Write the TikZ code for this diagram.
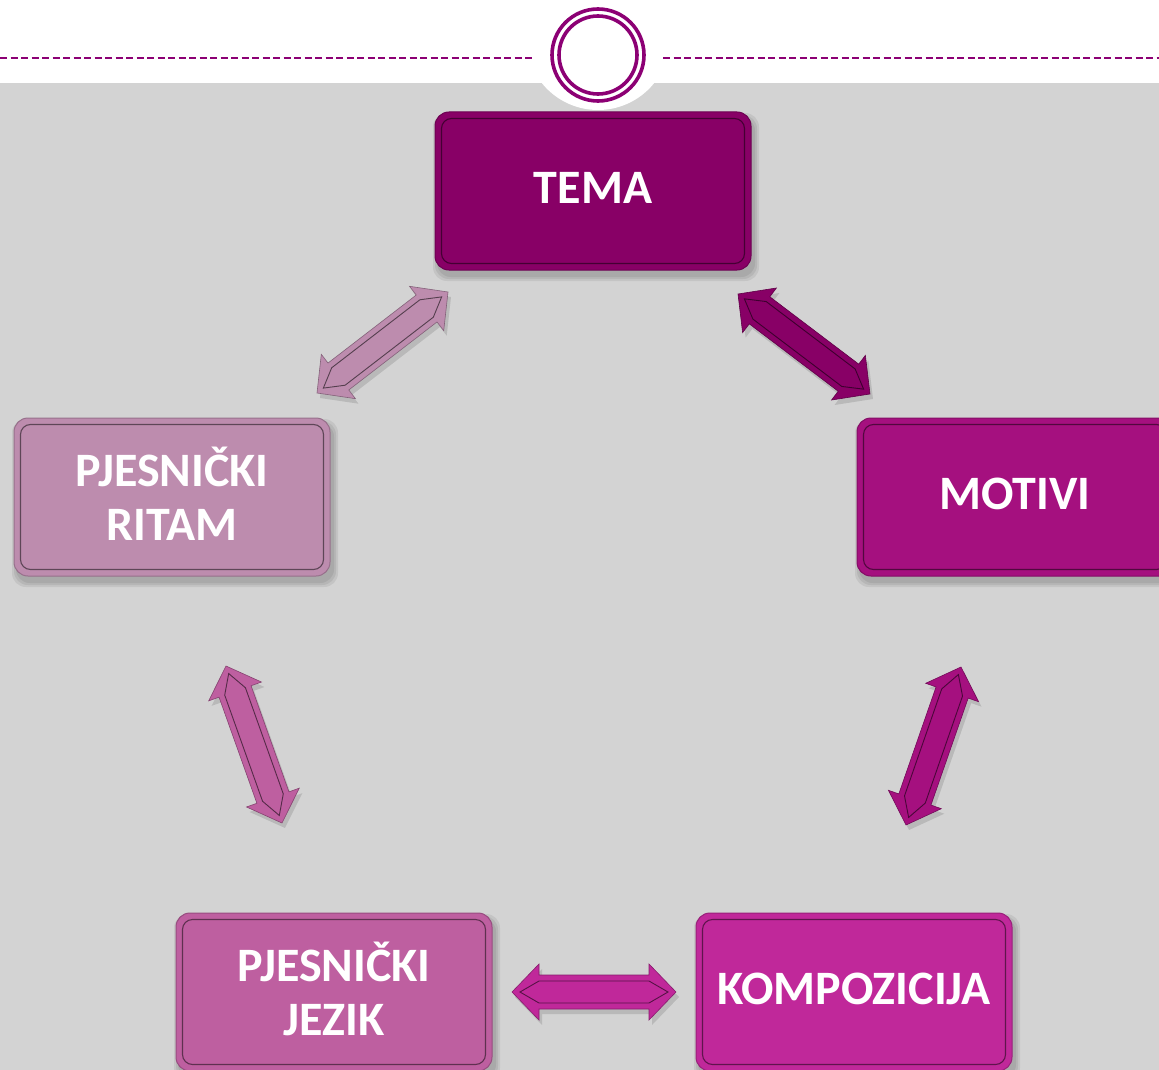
\documentclass[tikz,border=0pt]{standalone}
\usepackage{fontspec}
\setmainfont{Carlito}
\usetikzlibrary{calc}

\definecolor{temacol}{HTML}{880066}
\definecolor{motivicol}{HTML}{A5107F}
\definecolor{ritamcol}{HTML}{BD8CAE}
\definecolor{jezikcol}{HTML}{BE5FA0}
\definecolor{kompcol}{HTML}{C0289A}
\definecolor{bggrey}{HTML}{D3D3D3}
\definecolor{ringcol}{HTML}{8C0074}

\tikzset{
  topic/.style={rectangle,rounded corners=14pt,minimum width=316pt,minimum height=158pt,
    inner sep=0pt,draw=#1!80!black,line width=1pt,fill=#1,text=white,align=center,
    font=\fontsize{48}{54}\selectfont\bfseries},
  topicline/.style={draw=#1!50!black,line width=1.1pt,rounded corners=10pt},
  dashline/.style={ringcol,line width=1.8pt,dash pattern=on 7pt off 3.5pt},
  ringline/.style={ringcol,line width=3.6pt}
}

% box with soft shadow and inner outline
\newcommand{\topicbox}[4]{%
  \foreach \g in {1,3,5}
    \fill[black,opacity=0.07,rounded corners=14pt]
      ($(#2)+(-155-\g,-73-\g)$) rectangle ($(#2)+(161+\g,85+\g)$);
  \node[topic=#3] (#1) at (#2) {};
  \draw[topicline=#3] ($(#1.south west)+(7,-7)$) rectangle ($(#1.north east)+(-7,7)$);
  \node[text=white,align=center,font=\fontsize{48}{54}\selectfont\bfseries] (#1text)
    at ($(#1)+(0,-3)$) {#4};
}

% double-headed block arrow between two named coordinates
\newdimen\arrdx
\newdimen\arrdy
\newcommand{\dblarrow}[3]{%
  \pgfextractx{\arrdx}{\pgfpointdiff{\pgfpointanchor{#1}{center}}{\pgfpointanchor{#2}{center}}}%
  \pgfextracty{\arrdy}{\pgfpointdiff{\pgfpointanchor{#1}{center}}{\pgfpointanchor{#2}{center}}}%
  \pgfmathsetmacro\arrang{atan2(\arrdy,\arrdx)}%
  \pgfmathsetmacro\arrlen{veclen(\arrdx,\arrdy)}%
  \begin{scope}[shift={($(#1)+(3,5)$)},rotate=\arrang,x=1pt,y=1pt]
    \fill[black,opacity=0.12] (0,0) -- (27,28) -- (27,17) -- (\arrlen-27,17) -- (\arrlen-27,28)
      -- (\arrlen,0) -- (\arrlen-27,-28) -- (\arrlen-27,-17) -- (27,-17) -- (27,-28) -- cycle;
  \end{scope}
  \begin{scope}[shift={(#1)},rotate=\arrang,x=1pt,y=1pt]
    \filldraw[fill=#3,draw=#3!70!black,line width=0.6pt]
      (0,0) -- (27,28) -- (27,17) -- (\arrlen-27,17) -- (\arrlen-27,28)
      -- (\arrlen,0) -- (\arrlen-27,-28) -- (\arrlen-27,-17) -- (27,-17) -- (27,-28) -- cycle;
    \draw[#3!45!black,line width=0.9pt]
      (8,0) -- (27,11) -- (\arrlen-27,11) -- (\arrlen-8,0) -- (\arrlen-27,-11) -- (27,-11) -- cycle;
  \end{scope}
}

\begin{document}
\begin{tikzpicture}[x=1pt,y=-1pt]
\useasboundingbox (0,0) rectangle (1159,1070);
\clip (0,0) rectangle (1159,1070);

% background and header
\fill[white] (0,0) rectangle (1159,1070);
\fill[bggrey] (0,83) rectangle (1159,1070);
\fill[white] (598,38) circle (72pt);
\coordinate (emblem) at (598,55);
\draw[ringline] (emblem) circle (46pt);
\draw[ringline] (emblem) circle (39pt);
\draw[dashline] (0,58) -- (535,58);
\draw[dashline] (663,58) -- (1159,58);

% boxes
\topicbox{tema}{593,191}{temacol}{TEMA}
\topicbox{motivi}{1015,497}{motivicol}{MOTIVI}
\topicbox{ritam}{172,497}{ritamcol}{PJESNIČKI\\RITAM}
\topicbox{jezik}{334,992}{jezikcol}{PJESNIČKI\\JEZIK}
\topicbox{komp}{854,992}{kompcol}{KOMPOZICIJA}

% arrow ends
\coordinate (tr1) at (448,292);
\coordinate (tr2) at (317,393);
\coordinate (tm1) at (738,294);
\coordinate (tm2) at (870,394);
\coordinate (rj1) at (226,666);
\coordinate (rj2) at (282,823);
\coordinate (mk1) at (961,667);
\coordinate (mk2) at (906,825);
\coordinate (jk1) at (512,992);
\coordinate (jk2) at (676,992);

\dblarrow{tr1}{tr2}{ritamcol}
\dblarrow{tm1}{tm2}{temacol}
\dblarrow{rj1}{rj2}{jezikcol}
\dblarrow{mk1}{mk2}{motivicol}
\dblarrow{jk1}{jk2}{kompcol}
\end{tikzpicture}
\end{document}
